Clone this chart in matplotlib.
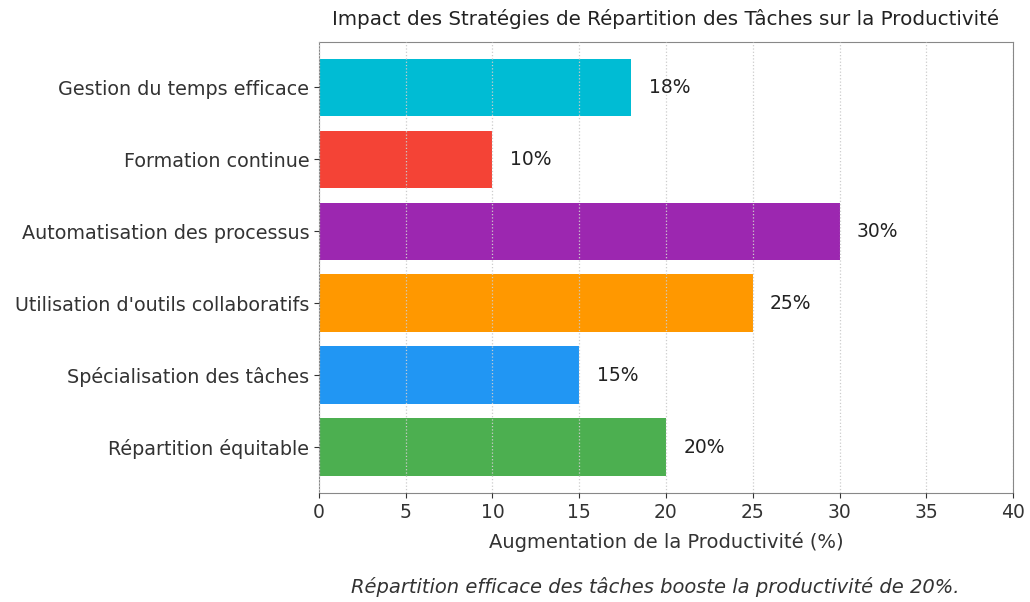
import matplotlib
matplotlib.use("Agg")
import matplotlib.pyplot as plt

plt.rcParams['font.family'] = ['DejaVu Sans']

strategies = [
    "Répartition équitable",
    "Spécialisation des tâches",
    "Utilisation d'outils collaboratifs",
    "Automatisation des processus",
    "Formation continue",
    "Gestion du temps efficace",
]
gains = [20, 15, 25, 30, 10, 18]
colors = ["#4CAF50", "#2196F3", "#FF9800", "#9C27B0", "#F44336", "#00BCD4"]

fig = plt.figure(figsize=(10.3, 6.02), dpi=100)
ax = fig.add_axes([0.3097, 0.181, 0.6738, 0.749])

ax.barh(range(len(strategies)), gains, height=0.8, color=colors, zorder=2)
for i, v in enumerate(gains):
    ax.text(v + 1, i, f"{v}%", va="center", ha="left", fontsize=13.5,
            color="#222222")

ax.set_yticks(range(len(strategies)))
ax.set_yticklabels(strategies, fontsize=13.8, color="#333333")
ax.set_xlim(0, 40)
ax.set_ylim(-0.64, 5.63)
ax.tick_params(axis="x", labelsize=13.5, colors="#333333", pad=4)
ax.tick_params(axis="y", colors="#333333")
ax.xaxis.grid(True, linestyle=":", color="#cccccc", linewidth=0.9, zorder=3)
ax.set_axisbelow(False)
for s in ax.spines.values():
    s.set_color("#888888")

ax.set_xlabel("Augmentation de la Productivité (%)", fontsize=14,
              color="#333333", labelpad=7)
ax.set_title("Impact des Stratégies de Répartition des Tâches sur la Productivité",
             fontsize=14.3, color="#222222", pad=12)
fig.text(0.636, 0.025, "Répartition efficace des tâches booste la productivité de 20%.",
         ha="center", va="center", fontsize=14, style="italic", color="#333333")

fig.savefig("out.png", dpi=100)
